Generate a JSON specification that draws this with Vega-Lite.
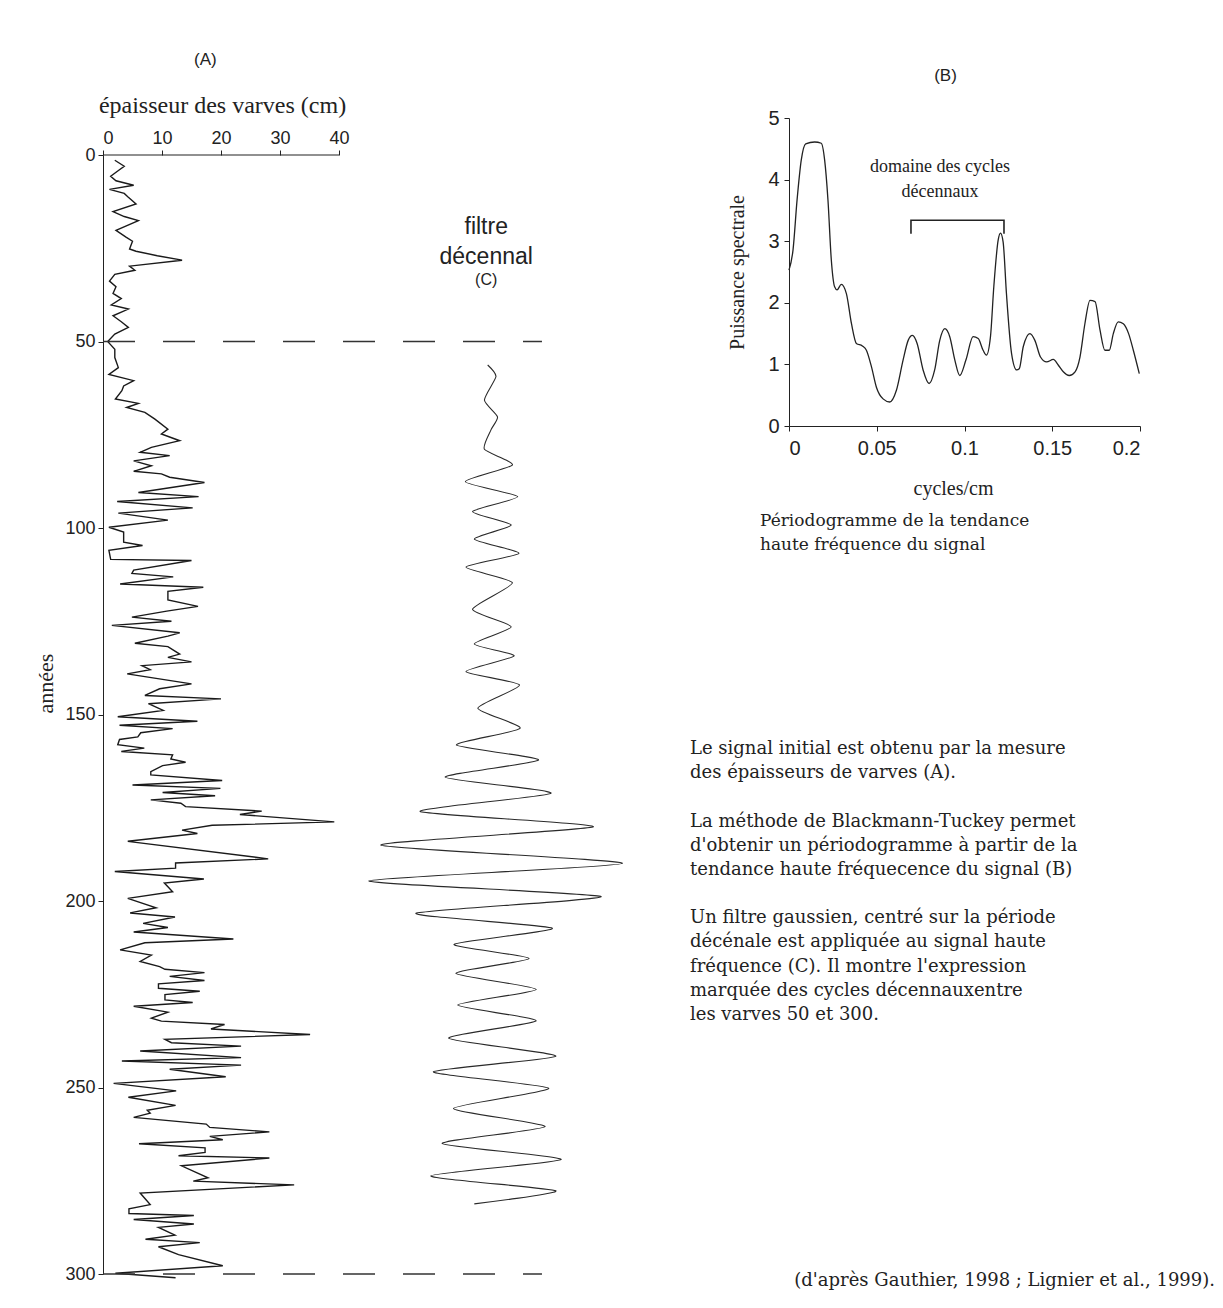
{
  "$schema": "https://vega.github.io/schema/vega-lite/v6.json",
  "background": "white",
  "padding": {"left": 34, "top": 51, "right": 5, "bottom": 12},
  "config": {
    "view": {"stroke": null},
    "axis": {"grid": false, "labelColor": "#222", "tickColor": "#222", "domainColor": "#222", "titleColor": "#222", "titleFontWeight": "normal"}
  },
  "datasets": {
    "varves": [
      {"annee": 1.4, "epaisseur": 2.0}, {"annee": 3.0, "epaisseur": 3.6}, {"annee": 4.3, "epaisseur": 2.5}, {"annee": 5.7, "epaisseur": 1.3},
      {"annee": 6.9, "epaisseur": 2.2}, {"annee": 8.1, "epaisseur": 5.2}, {"annee": 9.2, "epaisseur": 1.1}, {"annee": 10.3, "epaisseur": 3.6},
      {"annee": 11.2, "epaisseur": 4.2}, {"annee": 13.1, "epaisseur": 5.6}, {"annee": 15.2, "epaisseur": 1.7}, {"annee": 16.5, "epaisseur": 3.6},
      {"annee": 17.6, "epaisseur": 6.0}, {"annee": 20.2, "epaisseur": 2.2}, {"annee": 22.0, "epaisseur": 3.9}, {"annee": 23.1, "epaisseur": 5.0},
      {"annee": 25.2, "epaisseur": 4.5}, {"annee": 25.8, "epaisseur": 5.6}, {"annee": 27.0, "epaisseur": 9.2}, {"annee": 28.2, "epaisseur": 13.4},
      {"annee": 29.8, "epaisseur": 4.5}, {"annee": 30.9, "epaisseur": 5.4}, {"annee": 32.0, "epaisseur": 2.0}, {"annee": 33.8, "epaisseur": 1.1},
      {"annee": 35.3, "epaisseur": 2.2}, {"annee": 37.1, "epaisseur": 1.7}, {"annee": 38.5, "epaisseur": 3.1}, {"annee": 40.2, "epaisseur": 1.4},
      {"annee": 41.3, "epaisseur": 4.3}, {"annee": 43.1, "epaisseur": 1.7}, {"annee": 44.7, "epaisseur": 3.1}, {"annee": 46.2, "epaisseur": 4.3},
      {"annee": 48.0, "epaisseur": 2.0}, {"annee": 50.0, "epaisseur": 0.8}, {"annee": 50.7, "epaisseur": 1.2}, {"annee": 52.1, "epaisseur": 2.0},
      {"annee": 54.3, "epaisseur": 2.0}, {"annee": 57.0, "epaisseur": 2.6}, {"annee": 58.8, "epaisseur": 1.0}, {"annee": 60.5, "epaisseur": 5.2},
      {"annee": 61.9, "epaisseur": 3.5}, {"annee": 63.2, "epaisseur": 3.2}, {"annee": 65.4, "epaisseur": 2.1}, {"annee": 66.6, "epaisseur": 6.0},
      {"annee": 67.7, "epaisseur": 4.0}, {"annee": 69.0, "epaisseur": 7.1}, {"annee": 70.8, "epaisseur": 8.8}, {"annee": 73.5, "epaisseur": 11.0},
      {"annee": 74.8, "epaisseur": 9.9}, {"annee": 76.6, "epaisseur": 13.0}, {"annee": 78.4, "epaisseur": 8.2}, {"annee": 79.7, "epaisseur": 6.3},
      {"annee": 80.6, "epaisseur": 11.3}, {"annee": 82.0, "epaisseur": 5.2}, {"annee": 83.3, "epaisseur": 8.2}, {"annee": 84.8, "epaisseur": 5.2},
      {"annee": 85.5, "epaisseur": 9.9}, {"annee": 86.4, "epaisseur": 11.3}, {"annee": 87.8, "epaisseur": 17.2}, {"annee": 90.5, "epaisseur": 6.0},
      {"annee": 91.6, "epaisseur": 16.2}, {"annee": 92.9, "epaisseur": 2.4}, {"annee": 94.6, "epaisseur": 15.2}, {"annee": 96.0, "epaisseur": 2.6},
      {"annee": 97.9, "epaisseur": 11.0}, {"annee": 99.8, "epaisseur": 1.0}, {"annee": 101.1, "epaisseur": 3.5}, {"annee": 103.8, "epaisseur": 3.5},
      {"annee": 104.7, "epaisseur": 6.7}, {"annee": 106.0, "epaisseur": 1.0}, {"annee": 108.4, "epaisseur": 1.3}, {"annee": 108.7, "epaisseur": 15.0},
      {"annee": 111.3, "epaisseur": 5.2}, {"annee": 112.2, "epaisseur": 4.9}, {"annee": 113.1, "epaisseur": 11.9}, {"annee": 115.0, "epaisseur": 2.9},
      {"annee": 115.9, "epaisseur": 17.0}, {"annee": 117.0, "epaisseur": 11.0}, {"annee": 119.3, "epaisseur": 11.0}, {"annee": 121.0, "epaisseur": 16.1},
      {"annee": 122.3, "epaisseur": 10.8}, {"annee": 123.9, "epaisseur": 4.9}, {"annee": 125.0, "epaisseur": 11.6}, {"annee": 126.1, "epaisseur": 1.5},
      {"annee": 128.1, "epaisseur": 13.0}, {"annee": 129.0, "epaisseur": 11.0}, {"annee": 130.9, "epaisseur": 5.4}, {"annee": 131.8, "epaisseur": 11.0},
      {"annee": 133.8, "epaisseur": 13.0}, {"annee": 134.7, "epaisseur": 11.0}, {"annee": 135.9, "epaisseur": 15.0}, {"annee": 136.9, "epaisseur": 6.6},
      {"annee": 138.0, "epaisseur": 8.0}, {"annee": 139.1, "epaisseur": 4.1}, {"annee": 141.8, "epaisseur": 15.0}, {"annee": 143.1, "epaisseur": 9.6},
      {"annee": 144.9, "epaisseur": 7.1}, {"annee": 145.8, "epaisseur": 20.0}, {"annee": 147.1, "epaisseur": 7.7}, {"annee": 148.9, "epaisseur": 10.2},
      {"annee": 150.6, "epaisseur": 2.5}, {"annee": 151.8, "epaisseur": 16.0}, {"annee": 152.9, "epaisseur": 2.8}, {"annee": 153.8, "epaisseur": 11.8},
      {"annee": 154.9, "epaisseur": 6.4}, {"annee": 156.0, "epaisseur": 5.9}, {"annee": 156.7, "epaisseur": 2.8}, {"annee": 158.1, "epaisseur": 2.5},
      {"annee": 159.0, "epaisseur": 7.0}, {"annee": 159.9, "epaisseur": 3.1}, {"annee": 160.8, "epaisseur": 11.8}, {"annee": 161.9, "epaisseur": 11.5},
      {"annee": 162.8, "epaisseur": 14.0}, {"annee": 163.7, "epaisseur": 10.1}, {"annee": 165.3, "epaisseur": 8.1}, {"annee": 166.2, "epaisseur": 8.1},
      {"annee": 167.7, "epaisseur": 20.2}, {"annee": 168.9, "epaisseur": 5.0}, {"annee": 169.8, "epaisseur": 19.9}, {"annee": 170.9, "epaisseur": 10.1},
      {"annee": 171.8, "epaisseur": 19.0}, {"annee": 172.9, "epaisseur": 8.1}, {"annee": 173.8, "epaisseur": 13.2}, {"annee": 174.7, "epaisseur": 14.0},
      {"annee": 175.9, "epaisseur": 26.9}, {"annee": 176.8, "epaisseur": 23.2}, {"annee": 178.8, "epaisseur": 39.2}, {"annee": 179.7, "epaisseur": 18.5},
      {"annee": 181.0, "epaisseur": 13.4}, {"annee": 181.9, "epaisseur": 16.0}, {"annee": 184.0, "epaisseur": 4.2}, {"annee": 188.7, "epaisseur": 28.0},
      {"annee": 189.8, "epaisseur": 12.3}, {"annee": 191.2, "epaisseur": 12.3}, {"annee": 192.1, "epaisseur": 2.0}, {"annee": 194.1, "epaisseur": 17.1},
      {"annee": 195.2, "epaisseur": 10.4}, {"annee": 197.5, "epaisseur": 11.8}, {"annee": 199.3, "epaisseur": 4.2}, {"annee": 201.8, "epaisseur": 9.0},
      {"annee": 203.2, "epaisseur": 4.6}, {"annee": 204.3, "epaisseur": 12.2}, {"annee": 206.0, "epaisseur": 6.8}, {"annee": 207.1, "epaisseur": 11.0},
      {"annee": 208.3, "epaisseur": 5.2}, {"annee": 210.2, "epaisseur": 22.1}, {"annee": 211.2, "epaisseur": 7.1}, {"annee": 213.1, "epaisseur": 2.9},
      {"annee": 214.5, "epaisseur": 8.2}, {"annee": 216.2, "epaisseur": 6.3}, {"annee": 217.6, "epaisseur": 9.6}, {"annee": 218.3, "epaisseur": 10.5},
      {"annee": 219.2, "epaisseur": 17.2}, {"annee": 220.2, "epaisseur": 11.3}, {"annee": 221.3, "epaisseur": 17.2}, {"annee": 222.2, "epaisseur": 9.4},
      {"annee": 223.4, "epaisseur": 9.4}, {"annee": 224.2, "epaisseur": 16.4}, {"annee": 225.1, "epaisseur": 10.5}, {"annee": 226.5, "epaisseur": 10.5},
      {"annee": 227.2, "epaisseur": 15.2}, {"annee": 228.2, "epaisseur": 5.2}, {"annee": 229.8, "epaisseur": 11.0}, {"annee": 231.4, "epaisseur": 8.2},
      {"annee": 232.2, "epaisseur": 9.9}, {"annee": 233.1, "epaisseur": 20.6}, {"annee": 234.3, "epaisseur": 18.3}, {"annee": 235.8, "epaisseur": 35.1},
      {"annee": 237.1, "epaisseur": 10.5}, {"annee": 238.0, "epaisseur": 11.6}, {"annee": 238.9, "epaisseur": 23.4}, {"annee": 240.2, "epaisseur": 6.3},
      {"annee": 242.0, "epaisseur": 23.4}, {"annee": 242.9, "epaisseur": 3.2}, {"annee": 244.0, "epaisseur": 23.4}, {"annee": 245.1, "epaisseur": 11.3},
      {"annee": 247.1, "epaisseur": 20.8}, {"annee": 248.9, "epaisseur": 1.8}, {"annee": 250.9, "epaisseur": 12.4}, {"annee": 252.6, "epaisseur": 4.3},
      {"annee": 254.8, "epaisseur": 12.3}, {"annee": 256.1, "epaisseur": 7.5}, {"annee": 256.9, "epaisseur": 8.0}, {"annee": 258.0, "epaisseur": 5.2},
      {"annee": 259.8, "epaisseur": 17.5}, {"annee": 260.7, "epaisseur": 18.1}, {"annee": 261.9, "epaisseur": 28.2}, {"annee": 263.1, "epaisseur": 18.1},
      {"annee": 264.0, "epaisseur": 20.3}, {"annee": 265.1, "epaisseur": 6.1}, {"annee": 266.2, "epaisseur": 17.3}, {"annee": 267.4, "epaisseur": 17.3},
      {"annee": 268.3, "epaisseur": 12.8}, {"annee": 268.9, "epaisseur": 28.2}, {"annee": 271.0, "epaisseur": 13.3}, {"annee": 274.2, "epaisseur": 17.8},
      {"annee": 275.1, "epaisseur": 15.3}, {"annee": 276.1, "epaisseur": 32.4}, {"annee": 278.3, "epaisseur": 6.3}, {"annee": 281.4, "epaisseur": 8.0},
      {"annee": 282.5, "epaisseur": 4.4}, {"annee": 283.8, "epaisseur": 4.4}, {"annee": 284.3, "epaisseur": 15.4}, {"annee": 285.4, "epaisseur": 5.2},
      {"annee": 286.6, "epaisseur": 15.4}, {"annee": 287.5, "epaisseur": 9.4}, {"annee": 289.6, "epaisseur": 12.2}, {"annee": 290.7, "epaisseur": 7.2},
      {"annee": 291.6, "epaisseur": 16.4}, {"annee": 292.7, "epaisseur": 9.4}, {"annee": 294.8, "epaisseur": 12.8}, {"annee": 297.8, "epaisseur": 20.3},
      {"annee": 299.8, "epaisseur": 2.1}, {"annee": 301.0, "epaisseur": 12.3}
    ],
    "filtre": [
      {"annee": 56.3, "filtre": -0.55}, {"annee": 59.4, "filtre": 0.84}, {"annee": 65.7, "filtre": -1.1}, {"annee": 70.2, "filtre": 1.1},
      {"annee": 73.7, "filtre": 0.0}, {"annee": 78.9, "filtre": -1.1}, {"annee": 83.1, "filtre": 3.6}, {"annee": 87.6, "filtre": -4.3},
      {"annee": 91.6, "filtre": 4.5}, {"annee": 95.6, "filtre": -3.1}, {"annee": 99.2, "filtre": 3.4}, {"annee": 103.0, "filtre": -2.8},
      {"annee": 106.8, "filtre": 4.7}, {"annee": 110.5, "filtre": -4.2}, {"annee": 114.7, "filtre": 3.6}, {"annee": 121.8, "filtre": -3.1},
      {"annee": 126.5, "filtre": 3.4}, {"annee": 131.1, "filtre": -2.8}, {"annee": 134.3, "filtre": 3.9}, {"annee": 138.5, "filtre": -4.2},
      {"annee": 142.1, "filtre": 4.8}, {"annee": 148.3, "filtre": -2.2}, {"annee": 153.7, "filtre": 4.9}, {"annee": 158.2, "filtre": -5.8},
      {"annee": 162.2, "filtre": 8.0}, {"annee": 166.8, "filtre": -7.7}, {"annee": 171.1, "filtre": 10.1}, {"annee": 176.0, "filtre": -11.9},
      {"annee": 180.1, "filtre": 17.2}, {"annee": 185.0, "filtre": -18.5}, {"annee": 189.9, "filtre": 22.1}, {"annee": 194.6, "filtre": -20.5},
      {"annee": 198.8, "filtre": 18.5}, {"annee": 203.3, "filtre": -12.6}, {"annee": 207.3, "filtre": 10.3}, {"annee": 211.6, "filtre": -6.2},
      {"annee": 215.4, "filtre": 6.4}, {"annee": 219.4, "filtre": -5.9}, {"annee": 223.7, "filtre": 7.6}, {"annee": 227.9, "filtre": -5.6},
      {"annee": 232.1, "filtre": 7.6}, {"annee": 236.8, "filtre": -7.1}, {"annee": 241.6, "filtre": 10.9}, {"annee": 245.8, "filtre": -9.7},
      {"annee": 250.2, "filtre": 9.7}, {"annee": 255.6, "filtre": -6.3}, {"annee": 260.5, "filtre": 9.1}, {"annee": 265.0, "filtre": -8.2},
      {"annee": 269.3, "filtre": 11.8}, {"annee": 273.7, "filtre": -10.1}, {"annee": 277.7, "filtre": 10.9}, {"annee": 281.2, "filtre": -2.8}
    ],
    "spectre": [
      {"frequence": 0.0, "puissance": 2.53}, {"frequence": 0.0023, "puissance": 2.86}, {"frequence": 0.0046, "puissance": 3.67},
      {"frequence": 0.007, "puissance": 4.32}, {"frequence": 0.0095, "puissance": 4.58}, {"frequence": 0.0146, "puissance": 4.61},
      {"frequence": 0.0184, "puissance": 4.59}, {"frequence": 0.0203, "puissance": 4.32}, {"frequence": 0.0222, "puissance": 3.67},
      {"frequence": 0.0241, "puissance": 2.7}, {"frequence": 0.026, "puissance": 2.26}, {"frequence": 0.0274, "puissance": 2.21},
      {"frequence": 0.0298, "puissance": 2.3}, {"frequence": 0.0327, "puissance": 2.15}, {"frequence": 0.0356, "puissance": 1.66},
      {"frequence": 0.0384, "puissance": 1.34}, {"frequence": 0.0418, "puissance": 1.3}, {"frequence": 0.0441, "puissance": 1.23},
      {"frequence": 0.047, "puissance": 0.96}, {"frequence": 0.0498, "puissance": 0.63}, {"frequence": 0.0536, "puissance": 0.44},
      {"frequence": 0.0574, "puissance": 0.39}, {"frequence": 0.0612, "puissance": 0.58}, {"frequence": 0.065, "puissance": 1.07},
      {"frequence": 0.0679, "puissance": 1.39}, {"frequence": 0.0703, "puissance": 1.47}, {"frequence": 0.073, "puissance": 1.34},
      {"frequence": 0.0764, "puissance": 0.91}, {"frequence": 0.0798, "puissance": 0.69}, {"frequence": 0.083, "puissance": 0.91},
      {"frequence": 0.0859, "puissance": 1.39}, {"frequence": 0.0888, "puissance": 1.58}, {"frequence": 0.0916, "puissance": 1.45},
      {"frequence": 0.0945, "puissance": 1.07}, {"frequence": 0.0973, "puissance": 0.82}, {"frequence": 0.1008, "puissance": 1.07},
      {"frequence": 0.1049, "puissance": 1.45}, {"frequence": 0.1078, "puissance": 1.42}, {"frequence": 0.1106, "puissance": 1.23},
      {"frequence": 0.1125, "puissance": 1.15}, {"frequence": 0.1148, "puissance": 1.45}, {"frequence": 0.1167, "puissance": 2.26},
      {"frequence": 0.1192, "puissance": 3.02}, {"frequence": 0.1205, "puissance": 3.13}, {"frequence": 0.122, "puissance": 2.99},
      {"frequence": 0.1239, "puissance": 2.15}, {"frequence": 0.1268, "puissance": 1.18}, {"frequence": 0.1297, "puissance": 0.91},
      {"frequence": 0.1312, "puissance": 0.93}, {"frequence": 0.1335, "puissance": 1.29}, {"frequence": 0.1373, "puissance": 1.5},
      {"frequence": 0.1401, "puissance": 1.39}, {"frequence": 0.1433, "puissance": 1.12}, {"frequence": 0.1468, "puissance": 1.04},
      {"frequence": 0.1506, "puissance": 1.08}, {"frequence": 0.1534, "puissance": 0.99}, {"frequence": 0.1563, "puissance": 0.88},
      {"frequence": 0.1597, "puissance": 0.82}, {"frequence": 0.163, "puissance": 0.88}, {"frequence": 0.1658, "puissance": 1.12},
      {"frequence": 0.1686, "puissance": 1.66}, {"frequence": 0.1715, "puissance": 2.04}, {"frequence": 0.1744, "puissance": 2.02},
      {"frequence": 0.1772, "puissance": 1.56}, {"frequence": 0.18, "puissance": 1.23}, {"frequence": 0.1825, "puissance": 1.23},
      {"frequence": 0.1848, "puissance": 1.5}, {"frequence": 0.1876, "puissance": 1.69}, {"frequence": 0.1905, "puissance": 1.66},
      {"frequence": 0.1935, "puissance": 1.5}, {"frequence": 0.1962, "puissance": 1.23}, {"frequence": 0.1996, "puissance": 0.85}
    ],
    "accolade": [
      {"ordre": 1, "frequence": 0.0695, "puissance": 3.12}, {"ordre": 2, "frequence": 0.0695, "puissance": 3.34},
      {"ordre": 3, "frequence": 0.1225, "puissance": 3.34}, {"ordre": 4, "frequence": 0.1225, "puissance": 3.12}
    ],
    "texte": [
      {"bloc": "paragraphe", "ligne": 0, "texte": "Le signal initial est obtenu par la mesure"},
      {"bloc": "paragraphe", "ligne": 1, "texte": "des épaisseurs de varves (A)."},
      {"bloc": "paragraphe", "ligne": 3, "texte": "La méthode de Blackmann-Tuckey permet"},
      {"bloc": "paragraphe", "ligne": 4, "texte": "d'obtenir un périodogramme à partir de la"},
      {"bloc": "paragraphe", "ligne": 5, "texte": "tendance haute fréquecence du signal (B)"},
      {"bloc": "paragraphe", "ligne": 7, "texte": "Un filtre gaussien, centré sur la période"},
      {"bloc": "paragraphe", "ligne": 8, "texte": "décénale est appliquée au signal haute"},
      {"bloc": "paragraphe", "ligne": 9, "texte": "fréquence (C). Il montre l'expression"},
      {"bloc": "paragraphe", "ligne": 10, "texte": "marquée des cycles décennauxentre"},
      {"bloc": "paragraphe", "ligne": 11, "texte": "les varves 50 et 300."},
      {"bloc": "référence", "ligne": 22, "texte": "(d'après Gauthier, 1998 ; Lignier et al., 1999)."}
    ]
  },
  "spacing": 57,
  "hconcat": [
    {
      "title": {"text": "(A)", "anchor": "start", "frame": "group", "dx": 91, "offset": 24, "font": "Liberation Sans", "fontSize": 17, "fontWeight": "normal", "color": "#222"},
      "width": 530,
      "height": 1119,
      "layer": [
        {
          "layer": [
            {
              "data": {"name": "varves"},
              "mark": {"type": "line", "color": "#1a1a1a", "strokeWidth": 1.4},
              "encoding": {
                "x": {"field": "epaisseur", "type": "quantitative", "scale": {"domain": [0, 89.83], "nice": false, "zero": false},
                  "axis": {"orient": "top", "values": [0, 10, 20, 30, 40], "domain": false, "tickSize": 5, "labelFont": "Liberation Sans", "labelFontSize": 18, "labelPadding": 3,
                    "title": "épaisseur des varves (cm)", "titleFont": "Liberation Serif", "titleFontSize": 24, "titleX": 119, "titleY": -50, "titleBaseline": "middle", "titleAlign": "center"}},
                "y": {"field": "annee", "type": "quantitative", "scale": {"domain": [0, 300], "reverse": true, "nice": false, "zero": false},
                  "axis": {"values": [0, 50, 100, 150, 200, 250, 300], "tickSize": 5, "labelFont": "Liberation Sans", "labelFontSize": 18, "labelPadding": 3,
                    "title": "années", "titleFont": "Liberation Serif", "titleFontSize": 22, "titleX": -58, "titleY": 528, "titleBaseline": "middle", "titleAngle": -90, "titleAlign": "center"}},
                "order": {"field": "annee", "type": "quantitative"}
              }
            },
            {
              "data": {"values": [{"annee": 0}]},
              "mark": {"type": "rule", "color": "#222", "strokeWidth": 1.2},
              "encoding": {"x": {"datum": 0}, "x2": {"datum": 40}, "y": {"field": "annee", "type": "quantitative"}}
            },
            {
              "data": {"values": [{"annee": 50}, {"annee": 300}]},
              "mark": {"type": "rule", "color": "#333", "strokeWidth": 1.6, "strokeDash": [32, 28]},
              "encoding": {"x": {"datum": 0}, "x2": {"datum": 74.4}, "y": {"field": "annee", "type": "quantitative"}}
            }
          ]
        },
        {
          "layer": [
            {
              "data": {"name": "filtre"},
              "mark": {"type": "line", "interpolate": "cardinal", "tension": 0.4, "color": "#2a2a2a", "strokeWidth": 1.1},
              "encoding": {
                "x": {"field": "filtre", "type": "quantitative", "scale": {"domain": [-65.2, 23.87], "nice": false, "zero": false}, "axis": null},
                "y": {"field": "annee", "type": "quantitative"},
                "order": {"field": "annee", "type": "quantitative"}
              }
            },
            {
              "data": {"values": [{"etiquette": ["filtre", "décennal"]}]},
              "mark": {"type": "text", "font": "Liberation Sans", "fontSize": 23, "lineHeight": 30, "baseline": "middle", "color": "#222"},
              "encoding": {"x": {"datum": -0.8, "axis": null}, "y": {"datum": 19.3}, "text": {"field": "etiquette"}}
            },
            {
              "data": {"values": [{"etiquette": "(C)"}]},
              "mark": {"type": "text", "font": "Liberation Sans", "fontSize": 16, "baseline": "middle", "color": "#222"},
              "encoding": {"x": {"datum": -0.8, "axis": null}, "y": {"datum": 33.5}, "text": {"field": "etiquette"}}
            }
          ]
        }
      ],
      "resolve": {"scale": {"x": "independent"}}
    },
    {
      "spacing": 187,
      "vconcat": [
        {
          "title": {"text": ["Périodogramme de la tendance", "haute fréquence du signal"], "orient": "bottom", "anchor": "start", "frame": "group", "dx": -29, "offset": 15,
            "font": "DejaVu Serif", "fontSize": 17, "fontWeight": "normal", "lineHeight": 24, "color": "#222"},
          "width": 351,
          "height": 271,
          "layer": [
            {
              "layer": [
                {
                  "data": {"name": "spectre"},
                  "mark": {"type": "line", "interpolate": "monotone", "color": "#222", "strokeWidth": 1.3},
                  "encoding": {
                    "x": {"field": "frequence", "type": "quantitative", "scale": {"domain": [0, 0.2], "nice": false, "zero": false},
                      "axis": {"orient": "bottom", "values": [0, 0.05, 0.1, 0.15, 0.2], "format": "~g", "tickSize": 5, "labelFont": "Liberation Sans", "labelFontSize": 20, "labelPadding": 7,
                        "title": "cycles/cm", "titleFont": "Liberation Serif", "titleFontSize": 20, "titleX": 164, "titleY": 62, "titleBaseline": "middle", "titleAlign": "center"}},
                    "y": {"field": "puissance", "type": "quantitative", "scale": {"domain": [0, 5], "range": [271, -37], "nice": false, "zero": false},
                      "axis": {"values": [0, 1, 2, 3, 4, 5], "tickSize": 5, "labelFont": "Liberation Sans", "labelFontSize": 20, "labelPadding": 5,
                        "title": "Puissance spectrale", "titleFont": "Liberation Serif", "titleFontSize": 20, "titleX": -52, "titleY": 117, "titleBaseline": "middle", "titleAngle": -90, "titleAlign": "center"}}
                  }
                },
                {
                  "data": {"values": [{"etiquette": ["domaine des cycles", "décennaux"]}]},
                  "mark": {"type": "text", "font": "Liberation Serif", "fontSize": 18, "lineHeight": 25, "baseline": "middle", "color": "#222"},
                  "encoding": {"x": {"datum": 0.086}, "y": {"datum": 4.2}, "text": {"field": "etiquette"}}
                }
              ]
            },
            {
              "data": {"name": "accolade"},
              "mark": {"type": "line", "color": "#222", "strokeWidth": 1.6},
              "encoding": {
                "x": {"field": "frequence", "type": "quantitative",
                  "axis": {"orient": "top", "labels": false, "ticks": false, "domain": false,
                    "title": "(B)", "titleFont": "Liberation Sans", "titleFontSize": 17, "titleX": 156, "titleY": -80, "titleBaseline": "middle", "titleAlign": "center"}},
                "y": {"field": "puissance", "type": "quantitative"},
                "order": {"field": "ordre", "type": "quantitative"}
              }
            }
          ],
          "resolve": {"axis": {"x": "independent"}}
        },
        {
          "width": 525,
          "height": 532,
          "data": {"name": "texte"},
          "encoding": {
            "x": {"field": "bloc", "type": "nominal", "scale": {"type": "point", "domain": ["paragraphe", "référence"], "range": [-99, 426], "padding": 0}, "axis": null},
            "y": {"field": "ligne", "type": "quantitative", "scale": {"domain": [0, 22], "reverse": true, "nice": false, "zero": false}, "axis": null},
            "text": {"field": "texte"}
          },
          "layer": [
            {
              "transform": [{"filter": "datum.bloc === 'paragraphe'"}],
              "mark": {"type": "text", "align": "left", "baseline": "middle", "font": "DejaVu Serif", "fontSize": 18, "color": "#222"}
            },
            {
              "transform": [{"filter": "datum.bloc === 'référence'"}],
              "mark": {"type": "text", "align": "right", "baseline": "middle", "font": "DejaVu Serif", "fontSize": 18, "color": "#222"}
            }
          ]
        }
      ]
    }
  ]
}
